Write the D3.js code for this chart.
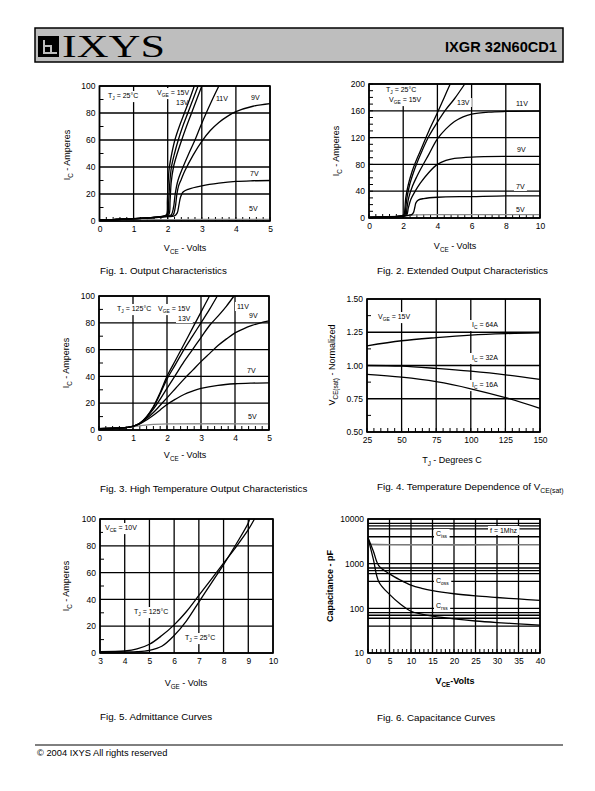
<!DOCTYPE html>
<html><head><meta charset="utf-8">
<script src="https://cdn.jsdelivr.net/npm/d3@7"></script>
<style>body{margin:0;background:#fff}svg{display:block}</style>
</head><body><svg id="c" width="595" height="791"></svg>
<script>
// ---------- DATA ----------
// Fig.1 Output characteristics (VCE volts, IC amperes), TJ=25C
const fig1Steep1 = [[0,0.6],[0.5,1.1],[1,1.7],[1.5,2.5],[1.9,3.6],[1.97,5],[1.99,15],[2.01,28],[2.05,40],[2.12,50],[2.21,60],[2.34,70],[2.49,80],[2.64,90],[2.78,100]];
const fig1Steep2 = [[0,0.6],[0.5,1.1],[1,1.7],[1.5,2.5],[1.9,3.6],[2.0,4.8],[2.03,15],[2.06,28],[2.11,40],[2.2,50],[2.31,60],[2.44,70],[2.59,80],[2.74,90],[2.89,100]];
const fig1Steep3 = [[0,0.6],[0.5,1.1],[1,1.7],[1.5,2.5],[1.9,3.6],[2.03,4.6],[2.07,15],[2.1,28],[2.17,40],[2.28,50],[2.41,60],[2.55,70],[2.7,80],[2.85,90],[3.0,100]];
const fig1V11 = [[0,0.6],[0.5,1.1],[1,1.7],[1.5,2.5],[1.9,3.5],[2.1,4.5],[2.17,10],[2.22,20],[2.3,30],[2.45,40],[2.62,50],[2.8,60],[2.96,70],[3.13,80],[3.31,90],[3.5,100]];
const fig1V9 = [[0,0.6],[0.5,1.1],[1,1.7],[1.5,2.4],[1.9,3.3],[2.15,4.2],[2.22,10],[2.27,20],[2.32,26],[2.4,31],[2.5,37],[2.75,49],[3.0,59],[3.25,67],[3.5,73],[3.75,77.5],[4.0,81],[4.5,85],[5.0,87]];
const fig1V7 = [[0,0.6],[0.5,1.1],[1,1.6],[1.5,2.3],[1.9,3.1],[2.2,3.8],[2.28,6],[2.33,12],[2.38,18],[2.45,21.5],[2.6,23.5],[3.0,26],[3.5,28],[4.0,29.3],[4.5,29.8],[5.0,30]];
const fig1V5 = [[0,0.5],[1,0.8],[2,1.0],[3,1.1],[5,1.2]];
// Fig.2 Extended output characteristics
const fig2V15 = [[0,1],[1,1.5],[1.5,2],[2,3],[2.05,4],[2.1,15],[2.15,30],[2.3,50],[2.5,68],[2.75,85],[3.0,100],[3.5,130],[4.0,157],[4.4,180],[4.75,200]];
const fig2V13 = [[0,1],[1,1.5],[1.5,2],[2,3],[2.1,4],[2.15,15],[2.22,30],[2.38,50],[2.6,68],[2.85,85],[3.1,100],[3.5,122],[4.0,143],[4.5,162],[5.0,178],[5.6,200]];
const fig2V11 = [[0,1],[1,1.5],[1.5,2],[2,3],[2.15,4],[2.22,15],[2.32,30],[2.55,48],[2.8,62],[3.0,72],[3.5,95],[4.0,118],[4.5,133],[5.0,144],[5.5,151],[6.0,155],[7.0,158],[8.0,159],[10,159.5]];
const fig2V9 = [[0,1],[1,1.5],[1.5,2],[2,3],[2.2,4],[2.3,15],[2.45,28],[2.7,40],[3.0,52],[3.5,68],[4.0,80],[4.5,86],[5.0,89],[6.0,91],[8.0,92],[10,92]];
const fig2V7 = [[0,1],[1,1.5],[1.5,2],[2,3],[2.3,4],[2.5,5],[2.6,8],[2.68,16],[2.75,23],[2.9,27],[3.2,29],[4,31],[6,32],[8,33],[10,33]];
const fig2V5 = [[0,1],[2,3],[2.6,4.5],[4,5],[10,5]];
// Fig.3 High temperature output characteristics, TJ=125C
const fig3V15 = [[0,1],[0.5,1.3],[0.8,1.8],[1.0,2.8],[1.2,5],[1.4,10],[1.6,17.5],[1.8,28],[2.0,40],[2.25,52],[2.5,64],[2.75,76],[3.0,88],[3.25,100]];
const fig3V13 = [[0,1],[0.5,1.3],[0.8,1.8],[1.0,2.8],[1.2,5],[1.4,9.8],[1.6,17],[1.8,27],[2.0,38],[2.25,49],[2.5,60],[2.75,70],[3.0,80],[3.25,90],[3.48,100]];
const fig3V11 = [[0,1],[0.5,1.3],[0.8,1.8],[1.0,2.8],[1.2,5],[1.4,9.5],[1.6,15.5],[1.8,23],[2.0,31],[2.25,41],[2.5,51],[2.75,60],[3.0,69],[3.25,78],[3.5,85],[3.75,92.5],[3.97,100]];
const fig3V9 = [[0,1],[0.5,1.3],[0.8,1.8],[1.0,2.8],[1.2,4.8],[1.4,8.5],[1.6,13],[1.8,18.5],[2.0,24],[2.25,31],[2.5,38],[2.75,44.5],[3.0,51],[3.25,57],[3.5,63],[3.75,68],[4.0,72.5],[4.25,75.5],[4.5,78],[4.75,80],[5.0,81.5]];
const fig3V7 = [[0,1],[0.5,1.3],[0.8,1.8],[1.0,2.7],[1.2,4.5],[1.4,7.5],[1.6,11],[1.8,15],[2.0,19],[2.25,23],[2.5,26.5],[2.75,29],[3.0,31],[3.5,33.3],[4.0,34.5],[4.5,35],[5.0,35.2]];
const fig3V5 = [[0,1],[0.5,1.3],[1.0,2.6],[1.5,4],[2.0,4.5],[5.0,4.6]];
// Fig.4 Temperature dependence of VCE(sat) (TJ degC, normalized)
const fig4Temps = [25,50,75,100,125,150];
const fig4Ic64 = [1.148,1.186,1.21,1.229,1.24,1.246];
const fig4Ic32 = [1.0,0.995,0.978,0.957,0.93,0.895];
const fig4Ic16 = [0.933,0.912,0.878,0.825,0.758,0.678];
// Fig.5 Admittance curves (VGE volts, IC amperes)
const fig5Tj125 = [[3,1],[4,1.5],[4.5,3],[5,6.5],[5.5,13],[6,21],[6.5,31],[7,43],[7.5,55],[8,67],[8.5,79],[9,92],[9.25,100]];
const fig5Tj25 = [[3,0.5],[4,0.8],[4.5,1],[5,2],[5.5,5],[6,13],[6.5,24],[7,38],[7.5,52],[8,66],[8.5,81],[9,97],[9.05,100]];
// Fig.6 Capacitance curves (VCE volts, pF)
const fig6Ciss = [[0,2700],[5,2650],[40,2650]];
const fig6Coss = [[0,3800],[1.25,1900],[2.5,900],[5,590],[7.5,430],[10,330],[12.5,280],[15,248],[20,212],[25,190],[30,175],[35,162],[40,150]];
const fig6Crss = [[0,3800],[1.25,1250],[2.5,395],[5,205],[7.5,125],[10,86],[12.5,74],[15,67],[20,58],[25,52],[30,48],[35,45],[40,42]];
// Tick labels
const ticks05 = [0,1,2,3,4,5];
const ticks0100 = [0,20,40,60,80,100];
const ticks010 = [0,2,4,6,8,10];
const ticks0200 = [0,40,80,120,160,200];
const ticksTemp = [25,50,75,100,125,150];
const ticksNorm = [0.5,0.75,1.0,1.25,1.5];
const ticksVge = [3,4,5,6,7,8,9,10];
const ticksVce40 = [0,5,10,15,20,25,30,35,40];
const ticksCap = [10,100,1000,10000];

// ---------- DRAWING ----------
const FONT = '"Liberation Sans", Arial, Helvetica, sans-serif';
const svg = d3.select('#c');

function rich(parent, x, y, parts, size, opts = {}) {
  const t = parent.append('text').attr('x', x).attr('y', y)
    .attr('font-size', size).attr('font-family', FONT).attr('fill', '#000');
  if (opts.anchor) t.attr('text-anchor', opts.anchor);
  if (opts.weight) t.attr('font-weight', opts.weight);
  if (opts.rotate) t.attr('transform', `rotate(-90,${x},${y})`);
  let shifted = false;
  parts.forEach(p => {
    if (typeof p === 'string') {
      const s = t.append('tspan').text(p);
      if (shifted) { s.attr('dy', -size * 0.3); shifted = false; }
    } else {
      t.append('tspan').text(p.sub).attr('font-size', size * 0.7).attr('dy', size * 0.3);
      shifted = true;
    }
  });
  return t;
}

function panel(c) {
  const g = svg.append('g');
  const x = d3.scaleLinear().domain(c.xDomain).range([c.left, c.right]);
  const y = (c.yLog ? d3.scaleLog() : d3.scaleLinear()).domain(c.yDomain).range([c.bottom, c.top]);
  // grid
  g.selectAll('.vg').data(c.xTicks).join('line')
    .attr('x1', d => x(d)).attr('x2', d => x(d)).attr('y1', c.top).attr('y2', c.bottom)
    .attr('stroke', '#000').attr('stroke-width', 1.3);
  g.selectAll('.hg').data(c.yGrid || c.yTicks).join('line')
    .attr('x1', c.left).attr('x2', c.right).attr('y1', d => y(d)).attr('y2', d => y(d))
    .attr('stroke', '#000').attr('stroke-width', 1.3);
  // minor ticks
  g.selectAll('.xm').data(c.xMinor || []).join('line')
    .attr('x1', d => x(d)).attr('x2', d => x(d)).attr('y1', c.bottom).attr('y2', c.bottom - 4)
    .attr('stroke', '#000').attr('stroke-width', 1);
  g.selectAll('.ym').data(c.yMinor || []).join('line')
    .attr('x1', c.left).attr('x2', c.left + 4).attr('y1', d => y(d)).attr('y2', d => y(d))
    .attr('stroke', '#000').attr('stroke-width', 1);
  const bg = g.append('g');
  // curves
  const line = d3.line().x(d => x(d[0])).y(d => y(d[1])).curve(d3.curveCatmullRom.alpha(0.5));
  c.series.forEach(s => {
    g.append('path').attr('d', line(s.data)).attr('fill', 'none')
      .attr('stroke', s.color || '#000').attr('stroke-width', s.width || 1.3);
  });
  // frame
  g.append('rect').attr('x', c.left).attr('y', c.top).attr('width', c.right - c.left).attr('height', c.bottom - c.top)
    .attr('fill', 'none').attr('stroke', '#000').attr('stroke-width', 1.6);
  // axes labels via d3 axes
  const ax = g.append('g').attr('transform', `translate(0,${c.bottom})`)
    .call(d3.axisBottom(x).tickValues(c.xTicks).tickSize(0).tickPadding(5).tickFormat(c.xFmt || d3.format('d')));
  const ay = g.append('g').attr('transform', `translate(${c.left},0)`)
    .call(d3.axisLeft(y).tickValues(c.yTicks).tickSize(0).tickPadding(4).tickFormat(c.yFmt || d3.format('d')));
  [ax, ay].forEach(a => {
    a.select('.domain').remove();
    a.selectAll('text').attr('font-family', FONT).attr('font-size', 8.5).attr('fill', '#000');
  });
  // titles
  rich(g, c.xTitle[0], c.xTitle[1], c.xTitle[2], 9, { anchor: 'middle', weight: c.bold ? 'bold' : null });
  rich(g, c.yTitle[0], c.yTitle[1], c.yTitle[2], 9, { anchor: 'middle', rotate: true, weight: c.bold ? 'bold' : null });
  rich(g, c.caption[0], c.caption[1], c.caption[2], 9.8, {});
  (c.labels || []).forEach(l => {
    const t = rich(g, l[0], l[1], l[2], l[3] || 7, {});
    const b = t.node().getBBox();
    bg.append('rect').attr('x', b.x - 2).attr('y', b.y - 1).attr('width', b.width + 4).attr('height', b.height + 2)
      .attr('fill', '#fff');
  });
  return { x, y };
}

function range(a, b, s) { const r = []; for (let v = a; v <= b + 1e-9; v += s) r.push(+v.toFixed(4)); return r; }

// Header
svg.append('rect').attr('x', 35).attr('y', 28).attr('width', 528).attr('height', 34)
  .attr('fill', '#bebebe').attr('stroke', '#000').attr('stroke-width', 1.5);
svg.append('rect').attr('x', 38).attr('y', 36).attr('width', 21).attr('height', 21).attr('fill', '#000');
svg.append('path').attr('d', 'M44,40 V53 H57 M44,46 H51 V53').attr('stroke', '#bebebe').attr('stroke-width', 2).attr('fill', 'none');
svg.append('text').attr('x', 62).attr('y', 57).attr('font-family', '"Liberation Serif", "Times New Roman", serif')
  .attr('font-size', 31).attr('textLength', 103).attr('lengthAdjust', 'spacingAndGlyphs').text('IXYS');
svg.append('text').attr('x', 445).attr('y', 52).attr('font-family', FONT)
  .attr('font-weight', 'bold').attr('font-size', 14.5).attr('textLength', 112).attr('lengthAdjust', 'spacingAndGlyphs').text('IXGR 32N60CD1');

// Fig 1
panel({
  left: 99.5, right: 270, top: 86, bottom: 221, xDomain: [0, 5], yDomain: [0, 100],
  xTicks: ticks05, yTicks: ticks0100, xMinor: range(0, 5, 0.2), yMinor: range(10, 90, 20),
  series: [
    { data: fig1V5, color: '#8a8a8a' }, { data: fig1V7 }, { data: fig1V9 }, { data: fig1V11 },
    { data: fig1Steep3 }, { data: fig1Steep2 }, { data: fig1Steep1 }],
  xTitle: [185, 251, ['V', { sub: 'CE' }, ' - Volts']],
  yTitle: [70, 155, ['I', { sub: 'C' }, ' - Amperes']],
  caption: [100, 274, ['Fig. 1. Output Characteristics']],
  labels: [[108, 98, ['T', { sub: 'J' }, ' = 25°C']], [157, 95, ['V', { sub: 'GE' }, ' = 15V']], [176, 105, ['13V']],
    [216, 101, ['11V']], [251, 100, ['9V']], [250, 176, ['7V']], [249, 211, ['5V']]]
});

// Fig 2
panel({
  left: 369, right: 540, top: 84, bottom: 218, xDomain: [0, 10], yDomain: [0, 200],
  xTicks: ticks010, yTicks: ticks0200, xMinor: range(0, 10, 0.4), yMinor: range(0, 200, 10),
  series: [
    { data: fig2V5, color: '#8a8a8a' }, { data: fig2V7 }, { data: fig2V9 }, { data: fig2V11 },
    { data: fig2V13 }, { data: fig2V15 }],
  xTitle: [455, 249, ['V', { sub: 'CE' }, ' - Volts']],
  yTitle: [339, 151, ['I', { sub: 'C' }, ' - Amperes']],
  caption: [377, 274, ['Fig. 2. Extended Output Characteristics']],
  labels: [[386, 92, ['T', { sub: 'J' }, ' = 25°C']], [389, 102, ['V', { sub: 'GE' }, ' = 15V']], [457, 105, ['13V']],
    [516, 106, ['11V']], [517, 152, ['9V']], [516, 189, ['7V']], [516, 212, ['5V']]]
});

// Fig 3
panel({
  left: 99, right: 269, top: 296, bottom: 430, xDomain: [0, 5], yDomain: [0, 100],
  xTicks: ticks05, yTicks: ticks0100, xMinor: range(0, 5, 0.2), yMinor: range(10, 90, 20),
  series: [
    { data: fig3V5, color: '#8a8a8a' }, { data: fig3V7 }, { data: fig3V9 }, { data: fig3V11 },
    { data: fig3V13 }, { data: fig3V15 }],
  xTitle: [185, 458, ['V', { sub: 'CE' }, ' - Volts']],
  yTitle: [69, 363, ['I', { sub: 'C' }, ' - Amperes']],
  caption: [100, 492, ['Fig. 3. High Temperature Output Characteristics']],
  labels: [[117, 311, ['T', { sub: 'J' }, ' = 125°C']], [158, 311, ['V', { sub: 'GE' }, ' = 15V']], [178, 321, ['13V']],
    [237, 309, ['11V']], [249, 318, ['9V']], [247, 373, ['7V']], [248, 419, ['5V']]]
});

// Fig 4
panel({
  left: 367, right: 540, top: 299, bottom: 432, xDomain: [25, 150], yDomain: [0.5, 1.5],
  xTicks: ticksTemp, yTicks: ticksNorm, xMinor: range(25, 150, 5), yMinor: [0.625, 0.875, 1.125, 1.375],
  yFmt: d3.format('.2f'),
  series: [
    { data: fig4Temps.map((t, i) => [t, fig4Ic64[i]]) },
    { data: fig4Temps.map((t, i) => [t, fig4Ic32[i]]) },
    { data: fig4Temps.map((t, i) => [t, fig4Ic16[i]]) }],
  xTitle: [452, 463, ['T', { sub: 'J' }, ' - Degrees C']],
  yTitle: [335, 365, ['V', { sub: 'CE(sat)' }, ' - Normalized']],
  caption: [377, 490, ['Fig. 4. Temperature Dependence of V', { sub: 'CE(sat)' }]],
  labels: [[378, 319, ['V', { sub: 'GE' }, ' = 15V']], [472, 327, ['I', { sub: 'C' }, ' = 64A']],
    [472, 360, ['I', { sub: 'C' }, ' = 32A']], [472, 387, ['I', { sub: 'C' }, ' = 16A']]]
});

// Fig 5
panel({
  left: 100, right: 273, top: 519, bottom: 653, xDomain: [3, 10], yDomain: [0, 100],
  xTicks: ticksVge, yTicks: ticks0100, yMinor: range(10, 90, 20),
  series: [{ data: fig5Tj125 }, { data: fig5Tj25 }],
  xTitle: [186, 686, ['V', { sub: 'GE' }, ' - Volts']],
  yTitle: [69, 586, ['I', { sub: 'C' }, ' - Amperes']],
  caption: [100, 720, ['Fig. 5. Admittance Curves']],
  labels: [[105, 530, ['V', { sub: 'CE' }, ' = 10V']], [134, 614, ['T', { sub: 'J' }, ' = 125°C']],
    [185, 640, ['T', { sub: 'J' }, ' = 25°C']]]
});

// Fig 6
panel({
  left: 368, right: 540, top: 519, bottom: 653, xDomain: [0, 40], yDomain: [10, 10000], yLog: true,
  xTicks: ticksVce40, yTicks: ticksCap, xMinor: range(0, 40, 1),
  yGrid: [10, 40, 60, 70, 80, 100, 400, 600, 700, 800, 1000, 4000, 6000, 7000, 8000, 10000],
  series: [{ data: fig6Ciss, color: '#7a7a7a', width: 1.6 }, { data: fig6Coss }, { data: fig6Crss }],
  bold: true,
  xTitle: [455, 684, ['V', { sub: 'CE' }, '-Volts']],
  yTitle: [333, 586, ['Capacitance - pF']],
  caption: [377, 721, ['Fig. 6. Capacitance Curves']],
  labels: [[436, 536, ['C', { sub: 'iss' }]], [490, 533, ['f = 1Mhz']], [436, 583, ['C', { sub: 'oss' }]],
    [436, 608, ['C', { sub: 'rss' }]]]
});

// Footer
svg.append('line').attr('x1', 35).attr('x2', 563).attr('y1', 745).attr('y2', 745).attr('stroke', '#000').attr('stroke-width', 1);
svg.append('text').attr('x', 37).attr('y', 756).attr('font-family', FONT).attr('font-size', 9.3).text('© 2004 IXYS All rights reserved');
</script></body></html>
